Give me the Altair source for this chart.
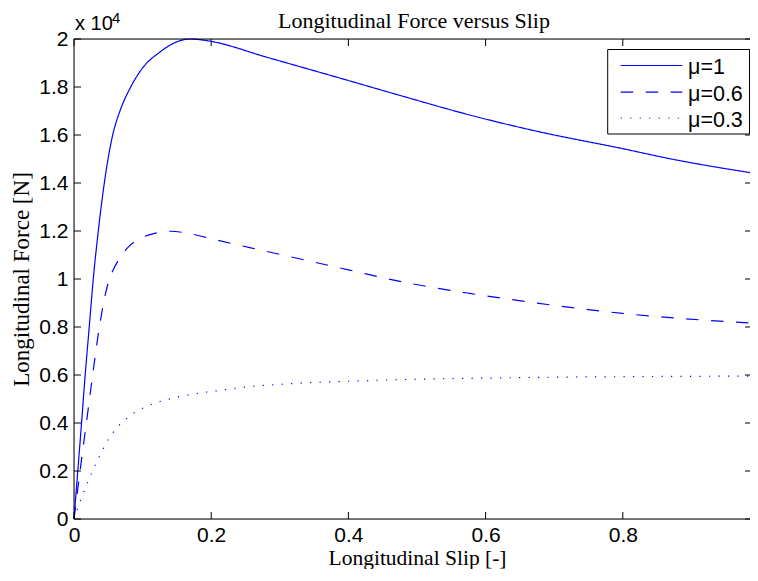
import altair as alt
import pandas as pd

# ---- data ----
series_names = ["μ=1", "μ=0.6", "μ=0.3"]

slip_mu1 = [0, 0.0055, 0.011, 0.0163, 0.0222, 0.0281, 0.0354, 0.0442, 0.0496, 0.0564,
            0.067, 0.0827, 0.101, 0.125, 0.148, 0.169, 0.184, 0.2, 0.281, 0.4,
            0.475, 0.592, 0.674, 0.8, 0.869, 0.995]
force_mu1 = [0, 2000, 4000, 6000, 8000, 10000, 12000, 14000, 15000, 16000,
             17000, 18000, 18830, 19450, 19860, 20000, 19970, 19900, 19240, 18270,
             17650, 16720, 16160, 15430, 15010, 14390]

slip_mu06 = [0, 0.0088, 0.018, 0.0272, 0.037, 0.0515, 0.058, 0.0646, 0.079, 0.101,
             0.1205, 0.14, 0.174, 0.204, 0.281, 0.4, 0.475, 0.577, 0.674, 0.8, 0.995]
force_mu06 = [0, 2000, 4000, 6000, 8000, 10000, 10430, 10780, 11330, 11750,
              11920, 11990, 11860, 11650, 11150, 10380, 9900, 9400, 9000, 8565, 8150]

slip_mu03 = [0, 0.005, 0.010, 0.016, 0.0233, 0.034, 0.0418, 0.0477, 0.0558, 0.0656,
             0.0768, 0.0875, 0.105, 0.1166, 0.1293, 0.1429, 0.1565, 0.1701, 0.1837, 0.2104,
             0.25, 0.318, 0.4, 0.494, 0.6, 0.702, 0.8, 0.995]
force_mu03 = [0, 420, 820, 1260, 1760, 2430, 2880, 3190, 3560, 3900,
              4190, 4420, 4680, 4820, 4930, 5030, 5120, 5190, 5250, 5350,
              5500, 5640, 5740, 5820, 5870, 5910, 5930, 5955]

x_ticks = [0, 0.2, 0.4, 0.6, 0.8, 1.0]
y_ticks = [0, 2000, 4000, 6000, 8000, 10000, 12000, 14000, 16000, 18000, 20000]

title_text = "Longitudinal Force versus Slip"
x_title = "Longitudinal Slip [-]"
y_title = "Longitudinal Force [N]"

# ---- styles ----
BLUE = "#0000ff"
dash_patterns = [[1, 0], [12.5, 12.5], [1.2, 8.3]]
SANS = "Liberation Sans"
SERIF = "Liberation Serif"
XR = 686    # pixel length of x range 0..1 (the reference crops the plot on the right)
W = 676     # visible plot width
H = 480

rows = []
for name, s_list, f_list in zip(series_names, [slip_mu1, slip_mu06, slip_mu03],
                                [force_mu1, force_mu06, force_mu03]):
    for s, f in zip(s_list, f_list):
        rows.append({"slip": s, "force": f, "series": name})
df = pd.DataFrame(rows)

x_scale = alt.Scale(domain=[0, 1], range=[0, XR], nice=False, zero=False)
y_scale = alt.Scale(domain=[0, 20000], nice=False, zero=False)

x_axis = alt.Axis(values=x_ticks,
                  labelExpr="datum.value >= 1 ? '' : format(datum.value, '~g')",
                  ticks=False, grid=False, domain=False,
                  labelFont=SANS, labelFontSize=21, labelColor="black",
                  labelPadding=5, labelFlush=False, labelOverlap=False,
                  title=x_title, titleFont=SERIF,
                  titleFontSize=21.5, titleFontWeight="normal",
                  titleColor="black", titleX=XR / 2, titleY=45.5,
                  titleBaseline="alphabetic", titleAlign="center")
y_axis = alt.Axis(values=y_ticks,
                  labelExpr="format(datum.value / 10000, '~g')",
                  ticks=False, grid=False, domain=False,
                  labelFont=SANS, labelFontSize=21, labelColor="black",
                  labelPadding=6, labelFlush=False, labelOverlap=False,
                  title=y_title, titleFont=SERIF,
                  titleFontSize=23, titleFontWeight="normal",
                  titleColor="black", titleAngle=270, titleX=-46,
                  titleY=H / 2, titleBaseline="alphabetic",
                  titleAlign="center")

lines = alt.Chart(df).mark_line(strokeWidth=1.2, interpolate="monotone").encode(
    x=alt.X("slip:Q", scale=x_scale, axis=x_axis),
    y=alt.Y("force:Q", scale=y_scale, axis=y_axis),
    color=alt.value(BLUE),
    strokeDash=alt.StrokeDash("series:N",
                              scale=alt.Scale(domain=series_names, range=dash_patterns),
                              legend=None),
    opacity=alt.Opacity("series:N",
                        scale=alt.Scale(domain=series_names, range=[1, 1, 0.75]),
                        legend=None),
)

xt_df = pd.DataFrame({"slip": x_ticks[:-1]})
yt_df = pd.DataFrame({"force": y_ticks})

bottom_ticks = alt.Chart(xt_df).mark_rule(color="black", strokeWidth=1).encode(
    x=alt.X("slip:Q", scale=x_scale, axis=x_axis), y=alt.value(H), y2=alt.value(H - 7))
top_ticks = alt.Chart(xt_df).mark_rule(color="black", strokeWidth=1).encode(
    x=alt.X("slip:Q", scale=x_scale, axis=x_axis), y=alt.value(0), y2=alt.value(7))
left_ticks = alt.Chart(yt_df).mark_rule(color="black", strokeWidth=1).encode(
    y=alt.Y("force:Q", scale=y_scale, axis=y_axis), x=alt.value(0), x2=alt.value(7))
right_ticks = alt.Chart(yt_df).mark_rule(color="black", strokeWidth=1).encode(
    y=alt.Y("force:Q", scale=y_scale, axis=y_axis), x=alt.value(W - 5), x2=alt.value(W))

border_df = pd.DataFrame({"k": [0]})
top_border = alt.Chart(border_df).mark_rule(color="black", strokeWidth=1).encode(
    x=alt.value(0), x2=alt.value(W), y=alt.value(0))
bottom_border = alt.Chart(border_df).mark_rule(color="black", strokeWidth=1).encode(
    x=alt.value(0), x2=alt.value(W), y=alt.value(H))
left_border = alt.Chart(border_df).mark_rule(color="black", strokeWidth=1).encode(
    x=alt.value(0), y=alt.value(0), y2=alt.value(H))

title_mark = alt.Chart(pd.DataFrame({"t": [title_text]})).mark_text(
    font=SERIF, fontSize=22, align="center", baseline="alphabetic", color="black").encode(
    text="t:N", x=alt.value(340), y=alt.value(-11.5))
exp_base = alt.Chart(pd.DataFrame({"t": ["x 10"]})).mark_text(
    font=SANS, fontSize=20, align="left", baseline="alphabetic", color="black").encode(
    text="t:N", x=alt.value(1), y=alt.value(-9))
exp_pow = alt.Chart(pd.DataFrame({"t": ["4"]})).mark_text(
    font=SANS, fontSize=15, align="left", baseline="alphabetic", color="black").encode(
    text="t:N", x=alt.value(38), y=alt.value(-16.5))

# ---- legend ----
leg_box = alt.Chart(pd.DataFrame({"k": [0]})).mark_rect(
    fill="white", stroke="black", strokeWidth=1).encode(
    x=alt.value(533.7), x2=alt.value(675.5), y=alt.value(10.5), y2=alt.value(95))
legend_layers = [leg_box]
leg_line_y = [26.5, 53.2, 79.2]
leg_opacity = [1, 1, 0.75]
for name, dash, ly, op in zip(series_names, dash_patterns, leg_line_y, leg_opacity):
    ldf = pd.DataFrame({"series": [name]})
    legend_layers.append(alt.Chart(ldf).mark_rule(color=BLUE, strokeWidth=1.2,
                                                   strokeDash=dash, opacity=op).encode(
        x=alt.value(546.7), x2=alt.value(608.3), y=alt.value(ly)))
    legend_layers.append(alt.Chart(ldf).mark_text(
        font=SANS, fontSize=21.5, align="left", baseline="alphabetic", color="black").encode(
        text="series:N", x=alt.value(614), y=alt.value(ly + 8.5)))

chart = alt.layer(
    lines, bottom_ticks, top_ticks, left_ticks, right_ticks,
    top_border, bottom_border, left_border,
    title_mark, exp_base, exp_pow, *legend_layers
).properties(
    width=W, height=H,
    autosize=alt.AutoSizeParams(type="none"),
    padding={"left": 66, "top": 31, "right": 0, "bottom": 50},
).configure_view(stroke=None).configure(background="white")

chart.save("out.html", embed_options={"renderer": "svg", "actions": False})
